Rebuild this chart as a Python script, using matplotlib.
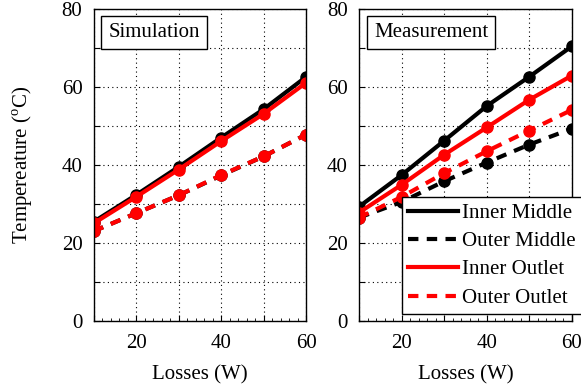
import matplotlib
matplotlib.use("Agg")
import matplotlib.pyplot as plt
from matplotlib.ticker import MultipleLocator

plt.rcParams['font.family'] = ['Liberation Serif', 'DejaVu Serif']
plt.rcParams['mathtext.fontset'] = 'custom'
plt.rcParams['mathtext.rm'] = 'Liberation Serif'

losses = [10, 20, 30, 40, 50, 60]

sim_inner_middle = [25.4, 32.3, 39.5, 47.0, 54.3, 62.6]
sim_outer_middle = [23.0, 27.6, 32.2, 37.3, 42.2, 47.8]
sim_inner_outlet = [25.0, 31.8, 38.8, 46.1, 53.1, 61.1]
sim_outer_outlet = [23.0, 27.6, 32.2, 37.4, 42.2, 47.8]

meas_inner_middle = [29.3, 37.4, 46.2, 55.1, 62.6, 70.4]
meas_outer_middle = [26.5, 30.5, 35.8, 40.6, 45.2, 49.3]
meas_inner_outlet = [27.8, 34.9, 42.6, 49.6, 56.7, 62.9]
meas_outer_outlet = [26.5, 31.8, 37.9, 43.5, 48.8, 54.1]

series_names = ["Inner Middle", "Outer Middle", "Inner Outlet", "Outer Outlet"]
y_ticklabels = ["0", "", "20", "", "40", "", "60", "", "80"]
x_ticklabels = ["", "20", "", "40", "", "60"]

colors = ["black", "black", "red", "red"]
styles = ["-", (0, (2.5, 2)), "-", (0, (2.5, 2))]

FS = 15

fig = plt.figure(figsize=(5.81, 3.89), dpi=100)
ax1 = fig.add_axes([0.161, 0.175, 0.366, 0.802])
ax2 = fig.add_axes([0.618, 0.175, 0.366, 0.802])

for ax, data, title in [
    (ax1, [sim_inner_middle, sim_outer_middle, sim_inner_outlet, sim_outer_outlet], "Simulation"),
    (ax2, [meas_inner_middle, meas_outer_middle, meas_inner_outlet, meas_outer_outlet], "Measurement"),
]:
    for vals, c, ls, name in zip(data, colors, styles, series_names):
        ax.plot(losses, vals, color=c, linestyle=ls, linewidth=3, marker='o',
                markersize=8, label=name)
    ax.set_xlim(10, 60)
    ax.set_ylim(0, 80)
    ax.set_xticks(losses)
    ax.set_xticklabels(x_ticklabels)
    ax.set_yticks(range(0, 81, 10))
    ax.set_yticklabels(y_ticklabels)
    ax.xaxis.set_minor_locator(MultipleLocator(2))
    ax.grid(True, which='major', linestyle=(0, (1, 3)), color='black', linewidth=0.8)
    ax.tick_params(axis='both', which='major', direction='in', labelsize=FS, length=4, pad=8)
    ax.tick_params(axis='x', which='major', pad=9.5)
    ax.tick_params(axis='both', which='minor', direction='in', length=2)
    ax.tick_params(top=False, right=False)
    for sp in ax.spines.values():
        sp.set_linewidth(1.0)
    ax.set_xlabel("Losses (W)", fontsize=FS, labelpad=9)
    ax.text(0.07, 0.955, title, transform=ax.transAxes, fontsize=FS, va='top', ha='left',
            bbox=dict(boxstyle='square,pad=0.35', facecolor='white', edgecolor='black', linewidth=1))

ax1.set_ylabel("Tempereature ($^{\\mathrm{o}}$C)", fontsize=FS, labelpad=19)

leg = ax2.legend(loc='lower left', fontsize=FS, frameon=True, fancybox=False,
                 edgecolor='black', framealpha=1, handlelength=2.4, handletextpad=0.2,
                 borderpad=0.3, labelspacing=0.42, borderaxespad=0,
                 bbox_to_anchor=(0.202, 0.022))
for h in leg.legend_handles:
    h.set_marker('')
leg.get_frame().set_linewidth(1)

fig.savefig("out.png", dpi=100)
